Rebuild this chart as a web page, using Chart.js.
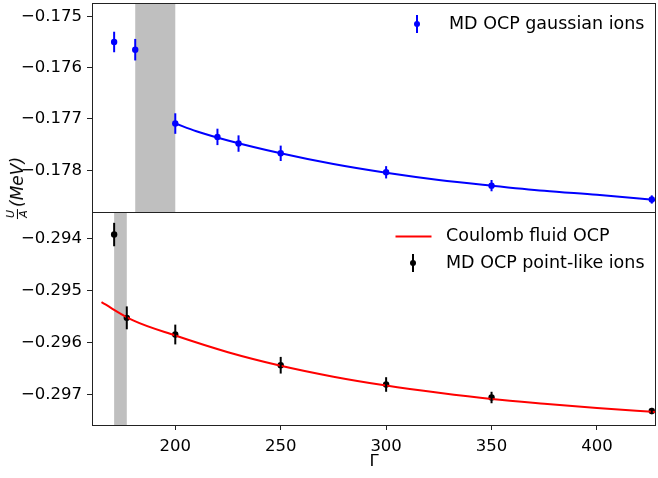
<!DOCTYPE html>
<html>
<head>
<meta charset="utf-8">
<script src="https://cdn.jsdelivr.net/npm/chart.js@4/dist/chart.umd.min.js"></script>
<style>
  body { margin: 0; background: #fff; }
  #wrap { position: relative; width: 658px; height: 478px; font-family: "DejaVu Sans", sans-serif; }
  #cTop { position: absolute; left: 0; top: 0; }
  #cBot { position: absolute; left: 0; top: 211px; }
  #ylab {
    position: absolute; left: 17px; top: 188px;
    transform: translate(-50%, -50%) rotate(-90deg);
    white-space: nowrap; font-size: 17px; font-style: italic;
    display: flex; align-items: center; color: #000;
  }
  .frac { display: inline-flex; flex-direction: column; align-items: center; font-size: 11px; line-height: 1.05; margin-right: 2px; }
  .frac span:first-child { border-bottom: 1px solid #000; padding: 0 1px; }
</style>
</head>
<body>
<div id="wrap">
  <canvas id="cTop" width="658" height="214"></canvas>
  <canvas id="cBot" width="658" height="267"></canvas>
  <div id="ylab"><span class="frac"><span>U</span><span>A</span></span><span>(MeV)</span></div>
</div>
<script>
// ── Data ──────────────────────────────────────────
const xTicks = [200, 250, 300, 350, 400];
const xRange = [160.5, 428];

// top panel: gaussian ions
const gammaGauss = [171, 181, 200, 220, 230, 250, 300, 350, 426];
const uGauss     = [-0.17550, -0.17565, -0.17709, -0.17735, -0.17748, -0.17767, -0.17804, -0.17830, -0.17857];
const errGauss   = [0.00020, 0.00021, 0.00020, 0.00016, 0.00016, 0.00015, 0.00012, 0.00011, 0.00008];
const fitGaussX  = [200, 210, 225, 250, 275, 300, 325, 350, 375, 400, 428];
const fitGaussY  = [-0.17709, -0.17724, -0.17742, -0.17767, -0.17788, -0.17805, -0.17819, -0.17830, -0.17840, -0.17848, -0.17858];
const shadeTop   = [181, 200];
const yTopTicks  = [-0.175, -0.176, -0.177, -0.178];
const yTopRange  = [-0.178814, -0.17474];

// bottom panel: point-like ions
const gammaPoint = [171, 177, 200, 250, 300, 350, 426];
const uPoint     = [-0.29392, -0.29552, -0.29584, -0.29643, -0.29680, -0.29705, -0.29731];
const errPoint   = [0.000225, 0.00022, 0.00019, 0.00016, 0.00014, 0.00011, 0.00006];
const coulombX   = [165, 180, 200, 225, 250, 275, 300, 325, 350, 375, 400, 428];
const coulombY   = [-0.29522, -0.29557, -0.29586, -0.29618, -0.29644, -0.29665, -0.29682, -0.29696, -0.29708, -0.29717, -0.29725, -0.29733];
const shadeBot   = [171, 177];
const yBotTicks  = [-0.294, -0.295, -0.296, -0.297];
const yBotRange  = [-0.297578, -0.293487];

const FONT = { family: '"DejaVu Sans", sans-serif', size: 16.5 };
const LEGEND_FONT = '17.5px "DejaVu Sans", sans-serif';
const fmt = v => v.toFixed(3).replace('-', '\u2212');
const pts = (xs, ys) => xs.map((x, i) => ({ x, y: ys[i] }));

// ── Panel plugin: shading, error bars, frame, legend ──
function panelPlugin(cfg) {
  return {
    id: 'panel',
    beforeDatasetsDraw(chart) {
      const { ctx, chartArea: a, scales: { x } } = chart;
      const x0 = x.getPixelForValue(cfg.shade[0]), x1 = x.getPixelForValue(cfg.shade[1]);
      ctx.save();
      ctx.fillStyle = '#bfbfbf';
      ctx.fillRect(x0, a.top, x1 - x0, a.bottom - a.top);
      ctx.restore();
    },
    afterDatasetsDraw(chart) {
      const { ctx, scales: { x, y } } = chart;
      ctx.save();
      ctx.strokeStyle = cfg.color;
      ctx.lineWidth = 2;
      cfg.xs.forEach((g, i) => {
        const px = x.getPixelForValue(g);
        ctx.beginPath();
        ctx.moveTo(px, y.getPixelForValue(cfg.ys[i] - cfg.err[i]));
        ctx.lineTo(px, y.getPixelForValue(cfg.ys[i] + cfg.err[i]));
        ctx.stroke();
      });
      ctx.restore();
    },
    afterDraw(chart) {
      const { ctx, chartArea: a } = chart;
      ctx.save();
      ctx.strokeStyle = '#222';
      ctx.lineWidth = 1;
      ctx.strokeRect(a.left + 0.5, a.top + 0.5, a.right - a.left - 1, a.bottom - a.top);
      // legend
      ctx.font = LEGEND_FONT;
      ctx.textBaseline = 'middle';
      cfg.legend.forEach(item => {
        const ly = a.top + item.dy;
        const lx = a.right - item.dx;
        ctx.strokeStyle = item.color; ctx.fillStyle = item.color; ctx.lineWidth = 2;
        if (item.kind === 'line') {
          ctx.beginPath(); ctx.moveTo(lx - 18, ly); ctx.lineTo(lx + 18, ly); ctx.stroke();
        } else {
          ctx.beginPath(); ctx.moveTo(lx, ly - 9); ctx.lineTo(lx, ly + 9); ctx.stroke();
          ctx.beginPath(); ctx.arc(lx, ly, 3, 0, Math.PI * 2); ctx.fill();
        }
        ctx.fillStyle = '#000';
        ctx.fillText(item.text, a.right - item.tx, ly);
      });
      ctx.restore();
    },
  };
}

function yScale(range, ticks) {
  return {
    min: range[0], max: range[1],
    afterBuildTicks: s => { s.ticks = ticks.map(v => ({ value: v })); },
    afterFit: s => { s.width = 92; s.paddingTop = 0; s.paddingBottom = 0; },
    grid: { drawOnChartArea: false, drawTicks: true, tickLength: 5, color: '#222' },
    border: { display: false },
    ticks: { color: '#000', font: FONT, padding: 5, callback: v => fmt(v) },
  };
}

// ── Top chart ─────────────────────────────────────
new Chart(document.getElementById('cTop'), {
  type: 'scatter',
  data: {
    datasets: [
      { type: 'line', data: pts(fitGaussX, fitGaussY), borderColor: '#0000ff', borderWidth: 2,
        pointRadius: 0, cubicInterpolationMode: 'monotone', fill: false },
      { data: pts(gammaGauss, uGauss), backgroundColor: '#0000ff', borderColor: '#0000ff', pointRadius: 3.2, borderWidth: 0 },
    ],
  },
  options: {
    responsive: false, animation: false,
    layout: { autoPadding: false, padding: { top: 3, right: 2, bottom: 2, left: 0 } },
    plugins: { legend: { display: false }, tooltip: { enabled: false } },
    scales: {
      x: { type: 'linear', display: false, min: xRange[0], max: xRange[1] },
      y: yScale(yTopRange, yTopTicks),
    },
  },
  plugins: [panelPlugin({
    shade: shadeTop, xs: gammaGauss, ys: uGauss, err: errGauss, color: '#0000ff',
    legend: [{ kind: 'err', color: '#0000ff', dx: 239, dy: 21, tx: 207, text: 'MD OCP gaussian ions' }],
  })],
});

// ── Bottom chart ──────────────────────────────────
new Chart(document.getElementById('cBot'), {
  type: 'scatter',
  data: {
    datasets: [
      { type: 'line', data: pts(coulombX, coulombY), borderColor: '#ff0000', borderWidth: 2,
        pointRadius: 0, cubicInterpolationMode: 'monotone', fill: false },
      { data: pts(gammaPoint, uPoint), backgroundColor: '#000', borderColor: '#000', pointRadius: 3.2, borderWidth: 0 },
    ],
  },
  options: {
    responsive: false, animation: false,
    layout: { autoPadding: false, padding: { top: 1, right: 2, bottom: 0, left: 0 } },
    plugins: { legend: { display: false }, tooltip: { enabled: false } },
    scales: {
      x: {
        type: 'linear', min: xRange[0], max: xRange[1],
        afterBuildTicks: s => { s.ticks = xTicks.map(v => ({ value: v })); },
        afterFit: s => { s.height = 53; s.paddingLeft = 0; s.paddingRight = 0; },
        grid: { drawOnChartArea: false, drawTicks: true, tickLength: 5, color: '#222' },
        border: { display: false },
        ticks: { color: '#000', font: FONT, padding: 7, maxRotation: 0 },
        title: { display: true, text: '\u0393', color: '#000', font: FONT, padding: { top: 0, bottom: 6 } },
      },
      y: yScale(yBotRange, yBotTicks),
    },
  },
  plugins: [panelPlugin({
    shade: shadeBot, xs: gammaPoint, ys: uPoint, err: errPoint, color: '#000',
    legend: [
      { kind: 'line', color: '#ff0000', dx: 242.5, dy: 24.5, tx: 210, text: 'Coulomb fluid OCP' },
      { kind: 'err', color: '#000', dx: 243, dy: 51, tx: 210, text: 'MD OCP point-like ions' },
    ],
  })],
});
</script>
</body>
</html>
